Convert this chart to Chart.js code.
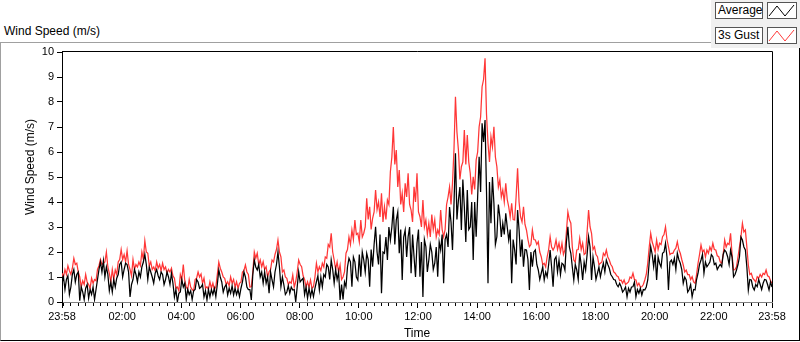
<!DOCTYPE html>
<html>
<head>
<meta charset="utf-8">
<title>Wind Speed</title>
<script src="https://cdn.jsdelivr.net/npm/chart.js@4.4.0/dist/chart.umd.min.js"></script>
<style>
  html, body { margin: 0; padding: 0; background: #fff; }
  body { width: 800px; height: 342px; position: relative; overflow: hidden;
         font-family: "Liberation Sans", Arial, sans-serif; color: #000; }
  #panel { position: absolute; left: 0; top: 42px; width: 800px; height: 299px; box-sizing: border-box;
           border-top: 1px solid #a0a0a0; border-left: 1px solid #a0a0a0;
           border-right: 1px solid #000; border-bottom: 1px solid #000; }
  #title { position: absolute; left: 4px; top: 24px; font-size: 12px; line-height: 14px; white-space: nowrap; }
  #ytitle { position: absolute; left: 30px; top: 167px; font-size: 12px; line-height: 14px; white-space: nowrap;
            transform: translate(-50%, -50%) rotate(-90deg); z-index: 3; }
  #legend { position: absolute; left: 711px; top: 0; width: 89px; height: 48px; background: #f0f0f0; z-index: 3; }
  .lbl { position: absolute; left: 4px; width: 48px; height: 17px; box-sizing: border-box; border: 1px solid #555;
         background: #fff; font-size: 12px; line-height: 15px; padding-left: 2px; white-space: nowrap; }
  .sw { position: absolute; left: 56px; width: 30px; height: 17px; box-sizing: border-box; border: 1px solid #555; background: #fff; }
  .sw svg { display: block; }
  #chart { position: absolute; left: 0; top: 0; z-index: 2; }
</style>
</head>
<body>
<div id="panel"></div>
<div id="title">Wind Speed (m/s)</div>
<div id="ytitle">Wind Speed (m/s)</div>
<div id="legend">
  <div class="lbl" style="top:2px">Average</div>
  <div class="sw" style="top:2px"><svg width="28" height="15"><polyline points="1,13 9,3 17,13 26,2" fill="none" stroke="#000" stroke-width="1"/></svg></div>
  <div class="lbl" style="top:27px">3s Gust</div>
  <div class="sw" style="top:27px"><svg width="28" height="15"><polyline points="1,13 9,3 17,13 26,2" fill="none" stroke="#ff3b3b" stroke-width="1"/></svg></div>
</div>
<canvas id="chart" width="800" height="342"></canvas>

<script>
// mẫu lấy mỗi 3 phút, tính từ 23:58
const STEP_MIN = 3;

// tốc độ gió trung bình (m/s)
const avgSpeed = [
  0.75,1.0, 0.5,0.9, 1.05,0.3, 0.6,1.1, 1.3,0.8,
  1.1,1.2, 0.05,0.6, 0.4,0.1, 0.55,0.7, 0.15,0.5,
  0.3,0.6, 0.1,0.5, 0.9,1.3, 1.6,1.2, 1.65,1.0,
  1.4,1.1, 0.45,0.8, 0.4,0.9, 0.6,0.95, 1.1,1.5,
  1.6,1.0, 1.3,1.55, 1.5,1.2, 0.2,0.7, 0.9,1.3,
  1.1,0.8, 1.2,1.0, 1.4,1.6, 1.9,1.5, 0.9,1.4,
  1.2,1.0, 0.75,1.15, 1.3,1.05, 0.9,1.2, 1.1,0.7,
  0.9,1.2, 1.0,0.7, 1.15,0.75, 0.2,0.5, 0.0,0.35,
  0.4,0.9, 0.6,0.75, 0.1,0.5, 0.3,0.45, 0.1,0.45,
  0.5,0.9, 0.8,0.55, 0.6,0.7, 0.2,0.45, 0.08,0.5,
  0.21,0.5, 0.3,0.55, 0.21,0.7, 1.28,1.0, 0.8,0.4,
  0.6,0.7, 0.28,0.55, 0.35,0.65, 0.28,0.55, 0.3,0.5,
  0.21,0.55, 0.8,1.2, 1.0,0.6, 0.5,0.5, 0.08,1.1,
  1.68,1.4, 1.28,1.5, 1.0,1.2, 0.75,1.2, 0.75,1.0,
  0.35,1.2, 0.88,0.6, 1.2,1.5, 2.0,1.4, 0.61,1.0,
  0.68,0.3, 0.4,0.65, 0.35,0.6, 0.48,0.5, 0.01,0.6,
  1.21,0.8, 0.88,0.95, 0.3,0.6, 0.15,0.55, 0.21,0.5,
  0.21,0.55, 0.81,1.05, 0.48,1.0, 0.61,1.1, 1.0,1.5,
  1.4,0.9, 1.68,1.3, 0.75,1.3, 0.9,1.2, 0.08,0.7,
  0.1,0.8, 0.61,1.4, 1.75,1.6, 0.61,1.8, 1.61,1.0,
  0.88,1.9, 1.01,2.0, 1.68,1.2, 1.95,1.7, 0.61,2.1,
  1.41,2.3, 3.01,2.0, 1.5,2.7, 0.35,2.0, 1.95,2.6,
  1.68,3.0, 2.48,3.0, 3.81,2.3, 3.28,3.6, 1.95,2.9,
  0.88,2.6, 2.88,1.8, 2.61,3.0, 1.15,2.7, 1.81,1.0,
  2.35,2.9, 1.01,2.4, 0.2,2.5, 2.21,1.2, 1.68,2.3,
  2.0,1.3, 1.55,2.2, 1.01,2.4, 2.08,2.7, 0.75,2.5,
  2.7,2.2, 3.8,3.2, 2.08,3.9, 5.95,3.3, 4.08,4.6,
  2.88,4.9, 3.81,2.4, 4.48,2.9, 3.01,4.0, 1.68,4.0,
  2.61,4.2, 5.81,4.4, 7.15,6.4, 7.28,4.4, 0.75,4.8,
  3.15,5.0, 3.95,2.3, 2.61,3.9, 3.41,2.6, 3.15,2.7,
  3.55,3.0, 2.48,2.9, 0.75,2.5, 2.08,1.5, 3.68,2.9,
  1.81,2.5, 1.41,2.1, 2.08,1.7, 0.48,2.0, 1.41,2.0,
  2.08,1.5, 1.28,0.9, 1.15,1.4, 0.88,1.2, 1.01,1.5,
  2.08,1.4, 0.61,1.7, 1.81,1.2, 1.68,1.1, 1.55,1.5,
  1.28,2.4, 3.01,2.2, 1.95,1.4, 0.88,1.5, 1.28,0.9,
  1.95,1.5, 0.88,1.6, 1.28,1.9, 2.61,2.2, 0.88,1.8,
  1.41,0.9, 1.15,1.4, 1.01,1.3, 1.55,1.2, 1.68,1.5,
  1.35,1.1, 1.01,0.9, 0.88,0.7, 0.61,0.75, 0.61,0.4,
  0.48,0.6, 0.21,0.55, 0.4,0.6, 0.61,0.8, 0.21,0.5,
  0.35,0.55, 0.28,0.5, 0.48,0.6, 0.88,1.6, 2.21,1.9,
  1.41,1.9, 0.88,1.8, 1.55,1.4, 1.95,2.0, 2.35,1.8,
  0.48,1.6, 1.68,1.5, 1.75,1.3, 1.95,1.7, 1.55,1.3,
  0.75,1.0, 0.88,0.4, 0.5,0.7, 0.21,0.5, 0.48,0.9,
  1.15,1.5, 1.68,1.9, 1.15,1.6, 1.41,1.5, 1.6,1.9,
  1.81,1.5, 1.55,1.3, 1.41,1.5, 1.41,1.9, 2.08,2.0,
  1.81,1.5, 2.08,1.8, 1.01,1.1, 1.28,1.5, 1.8,2.6,
  2.48,2.2, 2.08,1.4, 0.48,0.9, 0.88,0.6, 0.48,0.7,
  0.61,0.9, 0.7,0.5, 0.75,0.9, 0.88,0.7, 0.48,0.8,
  0.6
];

// gió giật 3 giây (m/s)
const gustSpeed = [
  1.15,1.0, 1.3,1.1, 1.45,1.25, 1.1,1.35, 1.75,1.5,
  1.55,1.2, 1.0,0.6, 0.85,0.7, 1.1,0.8, 0.7,0.55,
  0.95,0.75, 0.9,0.85, 1.3,1.45, 1.7,1.5, 1.55,1.6,
  2.0,1.4, 1.15,0.8, 1.3,0.9, 1.28,1.1, 1.6,1.7,
  2.1,1.7, 1.9,1.6, 2.05,1.5, 1.3,1.05, 1.7,1.3,
  1.5,1.4, 1.6,1.45, 2.0,1.7, 2.45,2.0, 1.95,1.45,
  1.6,1.3, 1.4,1.25, 1.6,1.35, 1.5,1.25, 1.55,1.3,
  1.4,1.15, 1.3,1.2, 1.35,1.05, 0.95,0.55, 0.6,0.45,
  1.1,0.9, 1.5,0.85, 0.6,0.5, 0.9,0.6, 0.5,0.45,
  0.9,0.95, 1.2,1.0, 1.12,0.75, 0.95,0.55, 0.61,0.5,
  0.81,0.55, 0.75,0.5, 0.61,1.1, 1.6,1.35, 1.2,1.0,
  0.95,0.7, 0.81,0.65, 1.0,0.75, 0.9,0.6, 0.81,0.55,
  0.75,0.8, 1.2,1.25, 1.48,1.2, 1.1,0.6, 0.61,1.2,
  2.0,1.75, 1.95,1.5, 1.68,1.4, 1.61,1.3, 1.41,1.0,
  1.21,1.3, 1.68,1.6, 1.9,2.1, 2.48,2.0, 1.81,1.2,
  1.28,1.0, 0.95,0.7, 0.81,0.75, 1.08,0.6, 0.81,1.2,
  1.68,1.5, 1.41,1.05, 0.9,0.6, 0.81,0.6, 0.88,0.55,
  0.61,1.0, 1.55,1.2, 1.41,1.25, 1.55,1.4, 1.8,1.75,
  2.3,2.2, 2.75,2.0, 1.68,1.3, 1.6,1.2, 1.48,0.9,
  1.0,1.2, 1.95,2.1, 2.6,2.3, 2.88,2.5, 3.28,2.7,
  2.75,2.4, 3.28,2.6, 2.75,3.0, 4.15,3.3, 3.81,2.9,
  3.35,3.6, 4.48,3.7, 4.0,3.4, 4.35,3.2, 3.81,3.3,
  4.08,3.9, 5.21,5.8, 7.0,5.5, 6.08,4.6, 5.28,3.9,
  4.35,3.6, 4.75,4.2, 5.15,3.9, 3.68,3.2, 4.61,4.0,
  5.15,3.6, 3.41,3.0, 4.08,3.0, 3.28,2.7, 3.15,2.6,
  3.5,2.9, 3.28,2.6, 2.88,2.7, 3.68,2.9, 2.61,2.9,
  3.9,4.2, 4.6,3.9, 4.75,6.1, 8.21,6.8, 6.08,4.9,
  5.41,5.6, 6.88,5.5, 6.68,5.6, 5.15,4.3, 5.01,4.5,
  5.68,6.0, 7.01,7.4, 8.61,8.9, 9.75,7.5, 6.35,5.6,
  6.61,6.2, 7.01,5.8, 5.41,4.6, 4.88,4.2, 4.48,4.0,
  4.75,4.1, 3.81,3.4, 3.95,3.3, 3.28,4.2, 5.35,4.0,
  3.41,3.2, 3.81,3.1, 2.88,2.5, 2.21,2.3, 2.88,2.5,
  2.48,2.3, 2.41,2.0, 1.81,1.5, 1.55,1.4, 1.81,2.1,
  2.61,2.2, 2.08,2.2, 2.48,2.1, 2.35,2.0, 2.35,1.9,
  2.08,2.8, 3.6,3.3, 3.15,2.2, 1.68,1.6, 2.08,2.1,
  2.55,2.1, 2.35,1.9, 1.95,2.8, 3.68,3.0, 2.75,2.1,
  2.21,1.9, 1.81,1.5, 1.55,1.6, 1.95,1.85, 2.08,1.8,
  1.68,1.5, 1.41,1.2, 1.15,1.05, 1.01,0.85, 0.88,0.75,
  0.88,0.7, 0.75,0.8, 1.0,0.95, 1.15,0.9, 0.88,0.65,
  0.75,0.6, 0.61,0.7, 0.88,1.1, 1.55,2.2, 2.75,2.4,
  2.21,2.0, 2.48,2.1, 2.35,2.3, 2.61,2.7, 3.01,2.5,
  2.21,1.9, 1.95,1.95, 2.08,2.15, 2.41,2.1, 1.95,1.7,
  1.48,1.2, 1.28,1.1, 1.1,0.9, 1.01,0.8, 0.75,1.1,
  1.55,1.9, 2.28,2.0, 2.08,1.8, 2.08,1.95, 2.2,2.05,
  2.35,2.1, 2.08,1.85, 1.81,1.6, 1.55,1.9, 2.48,2.2,
  2.35,2.3, 2.75,1.9, 1.28,1.3, 1.41,1.8, 2.2,2.6,
  3.15,2.8, 2.88,2.2, 1.48,1.1, 1.15,0.95, 0.88,0.8,
  1.01,0.95, 1.1,1.0, 1.15,1.1, 1.28,1.05, 1.01,0.85,
  0.75
];

// nhãn trục thời gian (phút tính từ 23:58)
const timeTickMinutes = [0, 122, 242, 362, 482, 602, 722, 842, 962, 1082, 1202, 1322, 1440];
const timeTickLabels = ['23:58', '02:00', '04:00', '06:00', '08:00', '10:00', '12:00',
                        '14:00', '16:00', '18:00', '20:00', '22:00', '23:58'];

const FONT = '"Liberation Sans", Arial, sans-serif';

function toPoints(values) {
    return values.map((v, i) => ({ x: i * STEP_MIN, y: v }));
}

// khung đồ thị + vạch chia phụ mỗi 15 phút
const framePlugin = {
    id: 'frame',
    afterDraw(chart) {
        const { ctx, chartArea: a, scales: { x } } = chart;
        ctx.save();
        ctx.strokeStyle = '#000';
        ctx.lineWidth = 1;
        ctx.beginPath();
        ctx.moveTo(a.left, a.top - 0.5);
        ctx.lineTo(a.right + 0.5, a.top - 0.5);
        ctx.lineTo(a.right + 0.5, a.bottom);
        ctx.stroke();

        ctx.beginPath();
        for (let m = 2; m < 1440; m += 15) {
            if (m > 2 && (m - 2) % 120 === 0) continue;
            const px = Math.round(x.getPixelForValue(m)) + 0.5;
            ctx.moveTo(px, a.bottom + 1);
            ctx.lineTo(px, a.bottom + 4);
        }
        ctx.stroke();
        ctx.restore();
    }
};

const ctx = document.getElementById('chart').getContext('2d');
const windChart = new Chart(ctx, {
    type: 'line',
    data: {
        datasets: [
            { label: 'Average', data: toPoints(avgSpeed), borderColor: '#000000' },
            { label: '3s Gust', data: toPoints(gustSpeed), borderColor: '#ff3636' }
        ]
    },
    options: {
        responsive: false,
        animation: false,
        devicePixelRatio: 1,
        layout: { padding: { left: 0, top: 52, right: 28, bottom: 0 } },
        plugins: { legend: { display: false }, tooltip: { enabled: false } },
        elements: {
            point: { radius: 0 },
            line: { borderWidth: 1.25, tension: 0 }
        },
        scales: {
            x: {
                type: 'linear',
                min: 0,
                max: 1440,
                afterFit(s) { s.height = 40; },
                afterBuildTicks(s) { s.ticks = timeTickMinutes.map(v => ({ value: v })); },
                ticks: {
                    autoSkip: false, maxRotation: 0, padding: 2, color: '#000',
                    font: { family: FONT, size: 11 },
                    callback: (v, i) => timeTickLabels[i]
                },
                grid: { drawOnChartArea: false, drawTicks: true, tickLength: 6, tickColor: '#000' },
                border: { display: true, color: '#808080' },
                title: { display: true, text: 'Time', color: '#000', font: { family: FONT, size: 12 }, padding: { top: 0, bottom: 1 } }
            },
            y: {
                min: 0,
                max: 10,
                afterFit(s) { s.width = 62; },
                ticks: { stepSize: 1, padding: 3, color: '#000', font: { family: FONT, size: 11 } },
                grid: { drawOnChartArea: false, drawTicks: true, tickLength: 5, tickColor: '#000' },
                border: { display: true, color: '#000' }
            }
        }
    },
    plugins: [framePlugin]
});
</script>
</body>
</html>
